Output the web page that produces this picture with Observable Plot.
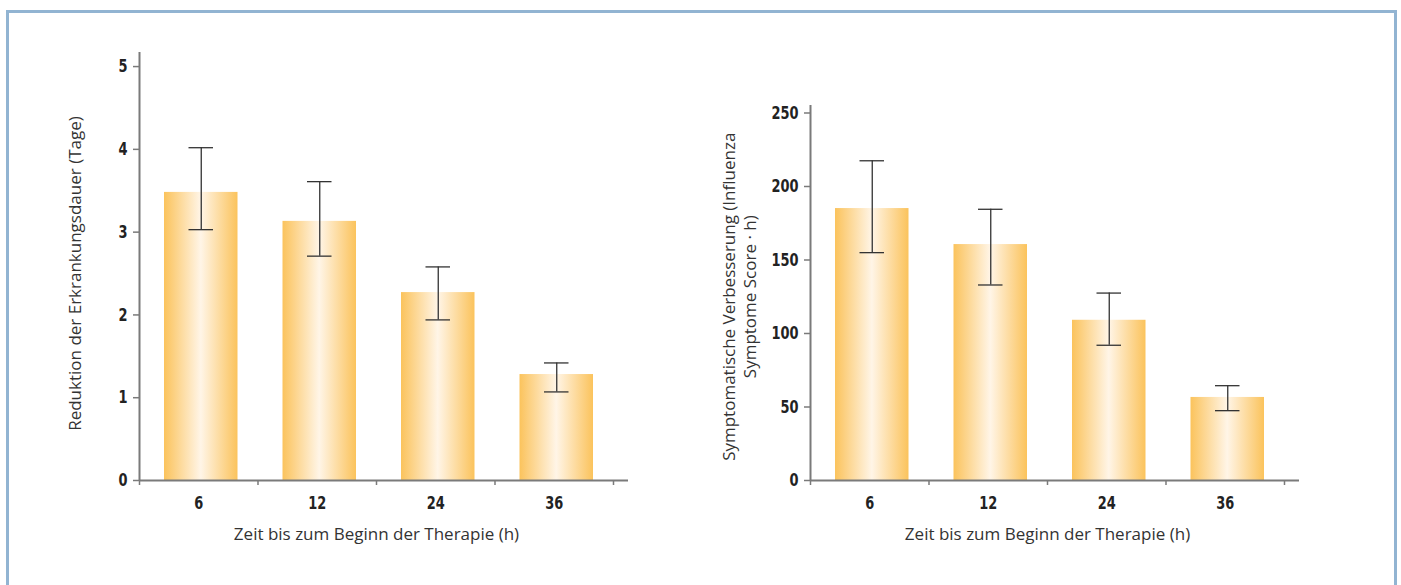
<!DOCTYPE html>
<html>
<head>
<meta charset="utf-8">
<script src="https://cdn.jsdelivr.net/npm/d3@7"></script>
<script src="https://cdn.jsdelivr.net/npm/@observablehq/plot@0.6"></script>
<style>
  html, body { margin: 0; padding: 0; background: #fff; }
  #page { position: relative; width: 1401px; height: 585px; overflow: hidden; background: #fff; }
  #frame { position: absolute; left: 6px; top: 10px; width: 1385px; height: 600px;
           border: 3px solid #92b4d2; border-bottom: none; }
  .chart { position: absolute; top: 0; }
</style>
</head>
<body>
<div id="page">
  <div id="frame"></div>
  <div id="left" class="chart" style="left:0px"></div>
  <div id="right" class="chart" style="left:700px"></div>
</div>
<script>
const categories = ["6", "12", "24", "36"];

const leftValues = [3.48, 3.13, 2.27, 1.28];
const leftLow    = [3.03, 2.71, 1.94, 1.07];
const leftHigh   = [4.02, 3.61, 2.58, 1.42];
const leftTicks  = [0, 1, 2, 3, 4, 5];

const rightValues = [185, 160.5, 109, 56.5];
const rightLow    = [155, 133, 92, 47.5];
const rightHigh   = [217.5, 184.5, 127.5, 64.5];
const rightTicks  = [0, 50, 100, 150, 200, 250];

const xLabel = "Zeit bis zum Beginn der Therapie (h)";
const leftYLabel = "Reduktion der Erkrankungsdauer (Tage)";
const rightYLabel = "Symptomatische Verbesserung (Influenza\nSymptome Score \u00b7 h)";

const tickFont = "'DejaVu Sans', sans-serif";
const labelFont = "'Open Sans', 'Noto Sans', sans-serif";
const axisGray = "#7a7a7a";
const condense = 0.72;

function makeChart(values, low, high, ticks, yMax, yLabel, opts) {
  const data = categories.map((c, i) => ({c, i, v: values[i], lo: low[i], hi: high[i]}));
  const gradId = opts.gradId;
  const boundaries = d3.range(categories.length + 1);
  const centers = categories.map((c, i) => i + 0.5);
  const svg = Plot.plot({
    width: opts.width,
    height: 585,
    marginLeft: opts.marginLeft,
    marginRight: opts.marginRight,
    marginTop: opts.marginTop,
    marginBottom: 105,
    style: {background: "transparent", color: "#222", overflow: "visible"},
    x: {domain: [0, categories.length + 0.1266], label: null},
    y: {domain: [0, yMax], label: null},
    marks: [
      Plot.rectY(data, {x1: d => d.i, x2: d => d.i + 1, y1: 0, y2: "v",
        insetLeft: 25, insetRight: 20, fill: `url(#${gradId})`}),
      Plot.ruleX(data, {x: d => d.i + 0.5, y1: "lo", y2: "hi", dx: 2.5, stroke: "#333", strokeWidth: 1.3}),
      Plot.ruleY(data, {x1: d => d.i, x2: d => d.i + 1, y: "hi", insetLeft: 49.5, insetRight: 44.5, stroke: "#333", strokeWidth: 1.3}),
      Plot.ruleY(data, {x1: d => d.i, x2: d => d.i + 1, y: "lo", insetLeft: 49.5, insetRight: 44.5, stroke: "#333", strokeWidth: 1.3}),
      Plot.ruleX([0], {stroke: axisGray, strokeWidth: 2}),
      Plot.ruleY([0], {stroke: axisGray, strokeWidth: 2}),
      Plot.axisY({ticks, tickSize: 6, tickPadding: 6, stroke: axisGray, strokeWidth: 1.5,
        tickFormat: d => String(d),
        fontSize: 18, fontWeight: "bold", fontFamily: tickFont, label: null}),
      Plot.axisX({ticks: boundaries, tickSize: 5, tickFormat: () => "", stroke: axisGray, strokeWidth: 1.5, label: null}),
      Plot.axisX({ticks: centers, tickSize: 0, tickPadding: 16, tickFormat: d => categories[Math.floor(d)],
        fontSize: 18, fontWeight: "bold", fontFamily: tickFont, label: null}),
      Plot.text([xLabel], {x: categories.length / 2, frameAnchor: "bottom", dy: 59,
        textAnchor: "middle", fontSize: 17, fontFamily: labelFont, fill: "#333"}),
      Plot.text([yLabel], {y: (ticks[0] + ticks[ticks.length - 1]) / 2, frameAnchor: "left", dx: opts.yLabelDx,
        textAnchor: "middle", rotate: -90, fontSize: 17, lineHeight: 1.25, fontFamily: labelFont, fill: "#333"})
    ]
  });
  const defs = d3.select(svg).insert("defs", ":first-child");
  const g = defs.append("linearGradient").attr("id", gradId)
    .attr("x1", "0").attr("x2", "1").attr("y1", "0").attr("y2", "0");
  g.append("stop").attr("offset", "0%").attr("stop-color", "#fbc35c");
  g.append("stop").attr("offset", "50%").attr("stop-color", "#fff5e7");
  g.append("stop").attr("offset", "100%").attr("stop-color", "#fbc35c");
  return svg;
}

function condenseTicks(svg) {
  d3.select(svg).selectAll('g[aria-label="y-axis tick label"] text, g[aria-label="x-axis tick label"] text')
    .each(function() {
      const w = this.getComputedTextLength();
      if (w > 0) {
        this.setAttribute("textLength", (w * condense).toFixed(2));
        this.setAttribute("lengthAdjust", "spacingAndGlyphs");
      }
    });
}

const leftSvg = makeChart(leftValues, leftLow, leftHigh, leftTicks, 5.17, leftYLabel,
  {width: 700, marginLeft: 139, marginRight: 72, marginTop: 52, yLabelDx: -65, gradId: "gradL"});
document.getElementById("left").appendChild(leftSvg);
const rightSvg = makeChart(rightValues, rightLow, rightHigh, rightTicks, 255.1, rightYLabel,
  {width: 701, marginLeft: 110, marginRight: 102, marginTop: 105, yLabelDx: -72, gradId: "gradR"});
document.getElementById("right").appendChild(rightSvg);
condenseTicks(leftSvg);
condenseTicks(rightSvg);
</script>
</body>
</html>
